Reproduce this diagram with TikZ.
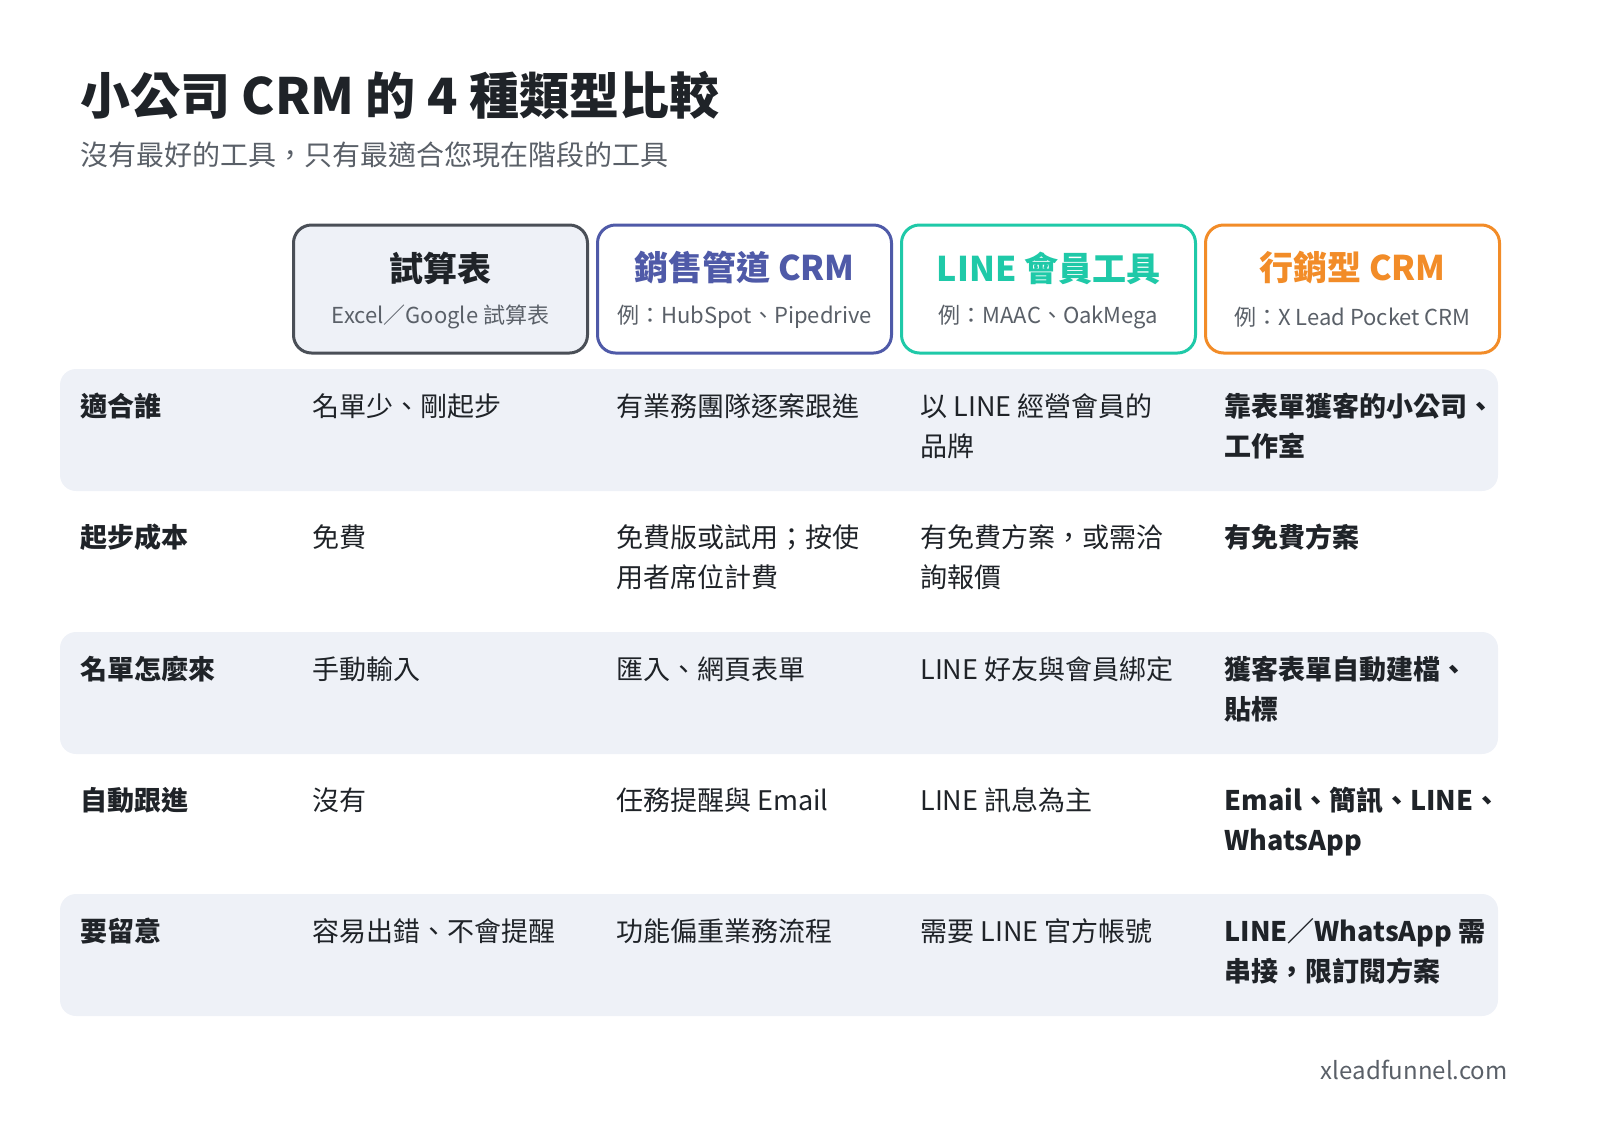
\documentclass[tikz,border=0pt]{standalone}
\usepackage{fontspec}
\setmainfont{Noto Sans CJK TC}
\usetikzlibrary{positioning}
\definecolor{ink}{HTML}{1F2328}
\definecolor{mute}{HTML}{5A6068}
\definecolor{band}{HTML}{EEF1F7}
\definecolor{cgray}{HTML}{4A4F57}
\definecolor{cblue}{HTML}{4F5AA8}
\definecolor{cteal}{HTML}{1FC9A8}
\definecolor{corange}{HTML}{F28C28}
\begin{document}
\begin{tikzpicture}[x=0.5pt,y=-0.5pt,
  head box/.style={draw,rounded corners=9pt,line width=1.5pt,minimum width=147pt,minimum height=64pt,fill=white},
  head title/.style={font=\fontsize{17}{20}\selectfont\bfseries},
  head sub/.style={font=\fontsize{11}{13}\selectfont,text=mute},
  row band/.style={fill=band,rounded corners=8pt},
  row label/.style={anchor=north west,inner sep=0pt,font=\fontsize{13.5}{20}\selectfont\bfseries,text=ink},
  cell/.style={anchor=north west,inner sep=0pt,align=left,font=\fontsize{13.5}{20}\selectfont,text=ink},
  key cell/.style={cell,font=\fontsize{13.5}{20}\selectfont\bfseries}]
\useasboundingbox (0,0) rectangle (1600,1136);
% title
\node[anchor=west,inner sep=0pt,font=\fontsize{25}{30}\selectfont\bfseries,text=ink] (title) at (80,95) {小公司 CRM 的 4 種類型比較};
\node[anchor=west,inner sep=0pt,font=\fontsize{14}{17}\selectfont,text=mute] (subtitle) at (80,155) {沒有最好的工具，只有最適合您現在階段的工具};
% header boxes
\node[head box,draw=cgray,fill=band] (h1) at (440.5,289) {};
\node[head box,draw=cblue] (h2) at (744.5,289) {};
\node[head box,draw=cteal] (h3) at (1048.5,289) {};
\node[head box,draw=corange] (h4) at (1352.5,289) {};
\foreach \n/\t/\s/\c in {h1/試算表/Excel／Google 試算表/ink,
    h2/銷售管道 CRM/例：HubSpot、Pipedrive/cblue,
    h3/LINE 會員工具/例：MAAC、OakMega/cteal,
    h4/行銷型 CRM/例：X Lead Pocket CRM/corange}{
  \node[head title,text=\c] at ([yshift=10.5pt]\n.center) {\t};
  \node[head sub] at ([yshift=-14pt]\n.center) {\s};
}
% row bands
\foreach \y in {369,632,894}
  \fill[row band] (60,\y) rectangle (1498,\y+122);
% rows
\foreach \y/\l/\a/\b/\c/\d in {
  393/適合誰/名單少、剛起步/有業務團隊逐案跟進/以 LINE 經營會員的\\品牌/靠表單獲客的小公司、\\工作室,
  524/起步成本/免費/免費版或試用；按使\\用者席位計費/有免費方案，或需洽\\詢報價/有免費方案,
  656/名單怎麼來/手動輸入/匯入、網頁表單/LINE 好友與會員綁定/獲客表單自動建檔、\\貼標,
  787/自動跟進/沒有/任務提醒與 Email/LINE 訊息為主/Email、簡訊、LINE、\\WhatsApp,
  918/要留意/容易出錯、不會提醒/功能偏重業務流程/需要 LINE 官方帳號/LINE／WhatsApp 需\\串接，限訂閱方案}{
  \node[row label] at (80,\y) {\l};
  \node[cell] at (312,\y) {\a};
  \node[cell] at (616,\y) {\b};
  \node[cell] at (920,\y) {\c};
  \node[key cell] at (1224,\y) {\d};
}
% footer
\node[anchor=east,inner sep=0pt,font=\fontsize{12}{14}\selectfont,text=mute] (site) at (1508,1070) {xleadfunnel.com};
\end{tikzpicture}
\end{document}
